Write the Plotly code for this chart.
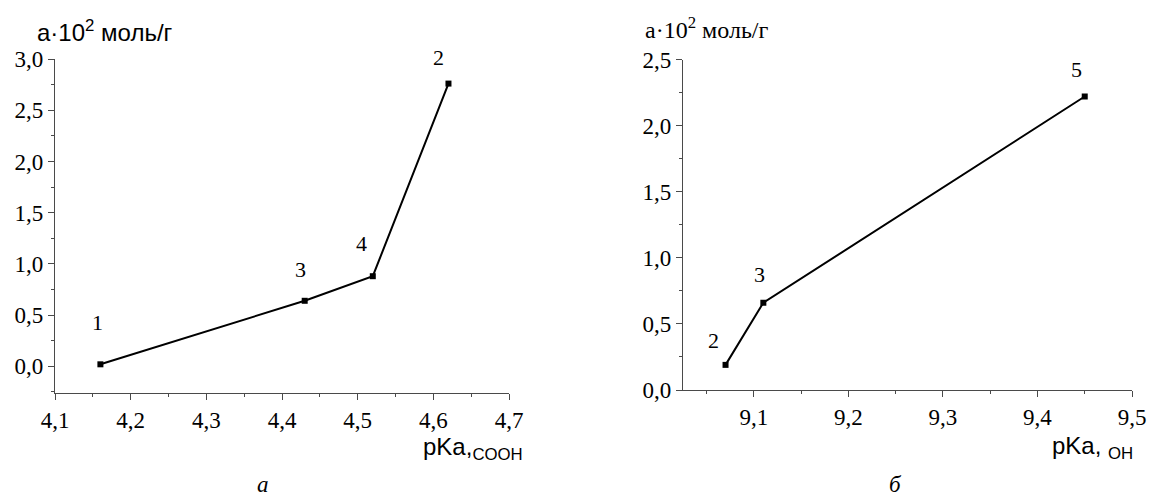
import plotly.graph_objects as go

W, H = 1149, 492

# Panel а: adsorption vs pKa of carboxyl groups
pka_cooh = [4.16, 4.43, 4.52, 4.62]
a_cooh = [0.02, 0.64, 0.88, 2.76]
labels_cooh = ["1", "3", "4", "2"]

# Panel б: adsorption vs pKa of hydroxyl groups
pka_oh = [9.07, 9.11, 9.45]
a_oh = [0.19, 0.66, 2.22]
labels_oh = ["2", "3", "5"]

# pixel offsets of the point numbers relative to their markers
offsets_cooh = [(-3, 42), (-4, 31), (-11, 33), (-10, 26)]
offsets_oh = [(-12, 24), (-4, 28), (-8, 27)]

AXIS_COLOR = "#4a4a4a"
SERIF = "Liberation Serif"
SANS = "Liberation Sans"
TICK_FONT = dict(family=SERIF, size=23, color="black")
NUM_FONT = dict(family=SERIF, size=22, color="black")


def px_x(p):
    return p / W


def px_y(p):
    return 1 - p / H


fig = go.Figure()

fig.add_trace(go.Scatter(
    x=pka_cooh, y=a_cooh, mode="lines+markers",
    line=dict(color="black", width=2),
    marker=dict(symbol="square", size=6, color="black"),
    xaxis="x", yaxis="y", showlegend=False, hoverinfo="skip",
))
fig.add_trace(go.Scatter(
    x=pka_oh, y=a_oh, mode="lines+markers",
    line=dict(color="black", width=2),
    marker=dict(symbol="square", size=6, color="black"),
    xaxis="x2", yaxis="y2", showlegend=False, hoverinfo="skip",
))

axis_common = dict(
    showgrid=False, zeroline=False, showline=True, automargin=False,
    linecolor=AXIS_COLOR, linewidth=1.3,
    ticks="outside", ticklen=6, tickwidth=1.3, tickcolor=AXIS_COLOR,
    tickfont=TICK_FONT, tickformat=".1f",
)


def minor(step):
    return dict(ticks="outside", ticklen=3, dtick=step, tick0=0,
                tickcolor=AXIS_COLOR, tickwidth=1.2)


fig.update_layout(
    template="none",
    width=W, height=H,
    margin=dict(l=0, r=0, t=0, b=0),
    font=dict(family=SERIF, size=21, color="black"),
    paper_bgcolor="white", plot_bgcolor="white",
    separators=", ",
    xaxis=dict(
        domain=[px_x(55), px_x(509)], range=[4.1, 4.7],
        tick0=4.1, dtick=0.1, anchor="y", minor=minor(0.05),
        **axis_common,
    ),
    yaxis=dict(
        domain=[px_y(393), px_y(59)], range=[-0.26, 3.0],
        tick0=0, dtick=0.5, anchor="x", minor=minor(0.25),
        **axis_common,
    ),
    xaxis2=dict(
        domain=[px_x(683), px_x(1132)], range=[9.025, 9.5],
        tick0=9.0, dtick=0.1, anchor="y2", minor=minor(0.05),
        **axis_common,
    ),
    yaxis2=dict(
        domain=[px_y(390), px_y(59.5)], range=[0, 2.5],
        tick0=0, dtick=0.5, anchor="x2", minor=minor(0.25),
        **axis_common,
    ),
)

annotations = []

# point numbers
for xs, ys, labs, offs, xr, yr in [
    (pka_cooh, a_cooh, labels_cooh, offsets_cooh, "x", "y"),
    (pka_oh, a_oh, labels_oh, offsets_oh, "x2", "y2"),
]:
    for xv, yv, lab, (dx, dy) in zip(xs, ys, labs, offs):
        annotations.append(dict(
            x=xv, y=yv, xref=xr, yref=yr, text=lab, showarrow=False,
            xshift=dx, yshift=dy, font=NUM_FONT,
        ))

# axis titles
annotations += [
    dict(x=px_x(35), y=px_y(31), xref="paper", yref="paper",
         xanchor="left", yanchor="middle", showarrow=False,
         text="а·10<sup>2</sup> моль/г",
         font=dict(family=SANS, size=24, color="black")),
    dict(x=px_x(643), y=px_y(28), xref="paper", yref="paper",
         xanchor="left", yanchor="middle", showarrow=False,
         text="а·10<sup>2</sup> моль/г",
         font=dict(family=SERIF, size=24, color="black")),
    dict(x=px_x(421), y=px_y(448), xref="paper", yref="paper",
         xanchor="left", yanchor="middle", showarrow=False,
         text="pKa,<sub>COOH</sub>",
         font=dict(family=SANS, size=24, color="black")),
    dict(x=px_x(1050), y=px_y(447), xref="paper", yref="paper",
         xanchor="left", yanchor="middle", showarrow=False,
         text="pKa, <sub>OH</sub>",
         font=dict(family=SANS, size=24, color="black")),
    # panel captions
    dict(x=px_x(263), y=px_y(484), xref="paper", yref="paper",
         xanchor="center", yanchor="middle", showarrow=False,
         text="<i>а</i>", font=dict(family=SERIF, size=23, color="black")),
    dict(x=px_x(895), y=px_y(484), xref="paper", yref="paper",
         xanchor="center", yanchor="middle", showarrow=False,
         text="<i>б</i>", font=dict(family=SERIF, size=23, color="black")),
]

fig.update_layout(annotations=annotations)

fig.write_html("out.html")
